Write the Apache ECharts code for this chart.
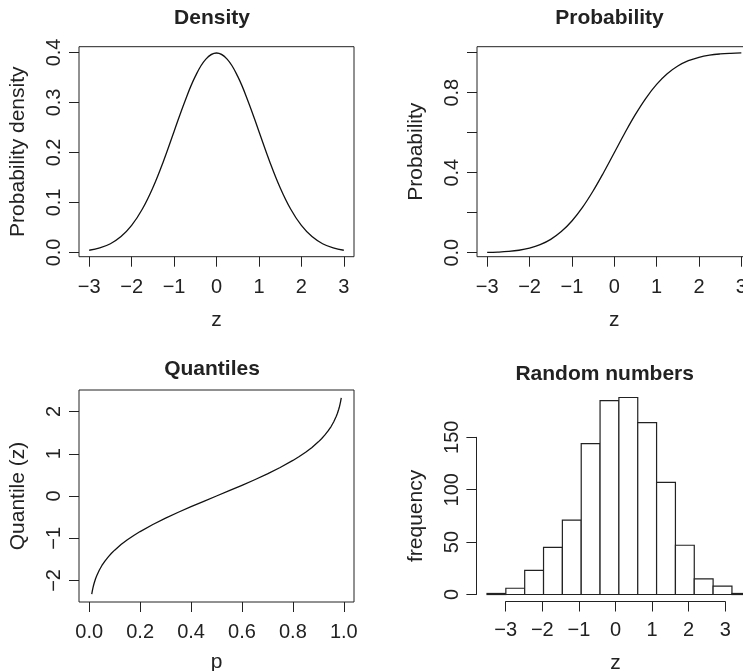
<!DOCTYPE html>
<html>
<head>
<meta charset="utf-8">
<script src="https://cdn.jsdelivr.net/npm/echarts@6/dist/echarts.min.js"></script>
<style>
  html, body { margin: 0; padding: 0; background: #fff; }
  #chart { width: 743px; height: 671px; }
</style>
</head>
<body>
<div id="chart"></div>
<script>
// ---------------- data ----------------
const densityZ = [-3, -2.75, -2.5, -2.25, -2, -1.75, -1.5, -1.25, -1, -0.75, -0.5, -0.25, 0,
                  0.25, 0.5, 0.75, 1, 1.25, 1.5, 1.75, 2, 2.25, 2.5, 2.75, 3];
const densityY = [0.0044, 0.0091, 0.0175, 0.0317, 0.0540, 0.0863, 0.1295, 0.1826, 0.2420, 0.3011, 0.3521, 0.3867, 0.3989,
                  0.3867, 0.3521, 0.3011, 0.2420, 0.1826, 0.1295, 0.0863, 0.0540, 0.0317, 0.0175, 0.0091, 0.0044];

const probZ = [-3, -2.75, -2.5, -2.25, -2, -1.75, -1.5, -1.25, -1, -0.75, -0.5, -0.25, 0,
               0.25, 0.5, 0.75, 1, 1.25, 1.5, 1.75, 2, 2.25, 2.5, 2.75, 3];
const probY = [0.0013, 0.0030, 0.0062, 0.0122, 0.0228, 0.0401, 0.0668, 0.1056, 0.1587, 0.2266, 0.3085, 0.4013, 0.5,
               0.5987, 0.6915, 0.7734, 0.8413, 0.8944, 0.9332, 0.9599, 0.9772, 0.9878, 0.9938, 0.9970, 0.9987];

const quantP = [0.01, 0.0125, 0.015, 0.0175, 0.02, 0.025, 0.03, 0.04, 0.05, 0.0625, 0.075, 0.0875, 0.1, 0.125, 0.15, 0.175, 0.2, 0.25, 0.3, 0.35, 0.4, 0.45, 0.5,
                0.55, 0.6, 0.65, 0.7, 0.75, 0.8, 0.825, 0.85, 0.875, 0.9, 0.9125, 0.925, 0.9375, 0.95, 0.96, 0.97, 0.975, 0.98, 0.9825, 0.985, 0.9875, 0.99];
const quantZ = [-2.326, -2.241, -2.170, -2.108, -2.054, -1.960, -1.881, -1.751, -1.645, -1.534, -1.440, -1.356, -1.282, -1.150, -1.036, -0.935, -0.842, -0.674, -0.524, -0.385, -0.253, -0.126, 0,
                0.126, 0.253, 0.385, 0.524, 0.674, 0.842, 0.935, 1.036, 1.150, 1.282, 1.356, 1.440, 1.534, 1.645, 1.751, 1.881, 1.960, 2.054, 2.108, 2.170, 2.241, 2.326];

const histEdges = [-3.51, -2.995, -2.48, -1.965, -1.45, -0.935, -0.42, 0.095, 0.61, 1.125, 1.64, 2.155, 2.67, 3.185, 3.70];
const histCounts = [1, 6, 23, 45, 71, 144, 185, 188, 164, 107, 47, 15, 8, 1];

// tick values / labels
const zTicks = [-3, -2, -1, 0, 1, 2, 3];
const densityYTicks = [0, 0.1, 0.2, 0.3, 0.4];
const probYTicks = [0, 0.2, 0.4, 0.6, 0.8, 1.0];
const probYLabels = [0, 0.4, 0.8];
const quantXTicks = [0, 0.2, 0.4, 0.6, 0.8, 1.0];
const quantYTicks = [-2, -1, 0, 1, 2];
const histYTicks = [0, 50, 100, 150];

const titles = ['Density', 'Probability', 'Quantiles', 'Random numbers'];

// ---------------- style ----------------
const FONT = '"Liberation Sans", Arial, Helvetica, sans-serif';
const INK = '#222';
const LINE = '#111';

function fmt(d) {
  return function (v) {
    const s = Math.abs(v).toFixed(d);
    return (v < -1e-9 ? '\u2212' : '') + s;
  };
}

function boxGrid(left, top, width, height) {
  return { left, top, width, height, show: true, borderColor: INK, borderWidth: 1,
           backgroundColor: 'transparent', containLabel: false, outerBoundsMode: 'none' };
}

function xAx(gridIndex, min, max, ticks, labels, dec, name, nameGap, margin) {
  return {
    type: 'value', gridIndex, min, max, position: 'bottom',
    axisLine: { show: false, onZero: false },
    splitLine: { show: false },
    axisTick: { show: true, inside: false, length: 10, customValues: ticks, lineStyle: { color: INK, width: 1 } },
    axisLabel: { show: true, customValues: labels, formatter: fmt(dec), margin, fontSize: 20, color: INK, fontFamily: FONT, hideOverlap: false, showMinLabel: true, showMaxLabel: true },
    name, nameLocation: 'middle', nameGap,
    nameTextStyle: { fontSize: 21, color: INK, fontFamily: FONT }
  };
}

function yAx(gridIndex, min, max, ticks, labels, dec, name, nameGap, margin) {
  return {
    type: 'value', gridIndex, min, max, position: 'left',
    axisLine: { show: false, onZero: false },
    splitLine: { show: false },
    axisTick: { show: true, inside: false, length: 10, customValues: ticks, lineStyle: { color: INK, width: 1 } },
    axisLabel: { show: true, customValues: labels, formatter: fmt(dec), rotate: 90, margin, fontSize: 20, color: INK, fontFamily: FONT, hideOverlap: false, showMinLabel: true, showMaxLabel: true },
    name, nameLocation: 'middle', nameGap, nameRotate: 90,
    nameTextStyle: { fontSize: 21, color: INK, fontFamily: FONT }
  };
}

const zip = (a, b) => a.map((v, i) => [v, b[i]]);
const histData = histCounts.map((c, i) => [histEdges[i], histEdges[i + 1], c]);

const option = {
  backgroundColor: '#fff',
  animation: false,
  textStyle: { fontFamily: FONT },
  grid: [
    boxGrid(79, 46.7, 275, 210),        // Density
    boxGrid(477, 46.7, 274.5, 210),     // Probability
    boxGrid(79, 390, 275, 212),         // Quantiles
    { left: 476.4, top: 389.6, width: 285, height: 212.8, show: false, containLabel: false, outerBoundsMode: 'none' }, // histogram bars
    { left: 476.4, top: 437.3, width: 10, height: 157.2, show: false, containLabel: false, outerBoundsMode: 'none' },  // hist y axis line
    { left: 505.7, top: 591.5, width: 219.5, height: 10, show: false, containLabel: false, outerBoundsMode: 'none' }   // hist x axis line
  ],
  xAxis: [
    xAx(0, -3.24, 3.24, zTicks, zTicks, 0, 'z', 53, 21),
    xAx(1, -3.24, 3.24, zTicks, zTicks, 0, 'z', 53, 21),
    xAx(2, -0.04, 1.04, quantXTicks, quantXTicks, 1, 'p', 50, 20),
    { type: 'value', gridIndex: 3, min: -3.8, max: 3.99, show: false },
    { type: 'value', gridIndex: 4, min: 0, max: 1, show: false },
    {
      type: 'value', gridIndex: 5, min: -3, max: 3, interval: 1, position: 'bottom',
      axisLine: { show: true, onZero: false, lineStyle: { color: INK, width: 1 } },
      splitLine: { show: false },
      axisTick: { show: true, inside: false, length: 10, customValues: zTicks, lineStyle: { color: INK, width: 1 } },
      axisLabel: { show: true, customValues: zTicks, formatter: fmt(0), margin: 19, fontSize: 20, color: INK, fontFamily: FONT },
      name: 'z', nameLocation: 'middle', nameGap: 51,
      nameTextStyle: { fontSize: 21, color: INK, fontFamily: FONT }
    }
  ],
  yAxis: [
    yAx(0, -0.0085, 0.4115, densityYTicks, densityYTicks, 1, 'Probability density', 50, 15),
    yAx(1, -0.02, 1.03, probYTicks, probYLabels, 1, 'Probability', 50, 15),
    yAx(2, -2.51, 2.51, quantYTicks, quantYTicks, 0, 'Quantile (z)', 50, 15),
    { type: 'value', gridIndex: 3, min: -7.52, max: 195.52, show: false },
    {
      type: 'value', gridIndex: 4, min: 0, max: 150, interval: 50, position: 'left',
      axisLine: { show: true, onZero: false, lineStyle: { color: INK, width: 1 } },
      splitLine: { show: false },
      axisTick: { show: true, inside: false, length: 10, customValues: histYTicks, lineStyle: { color: INK, width: 1 } },
      axisLabel: { show: true, customValues: histYTicks, formatter: fmt(0), rotate: 90, margin: 14, fontSize: 20, color: INK, fontFamily: FONT },
      name: 'frequency', nameLocation: 'middle', nameGap: 50, nameRotate: 90,
      nameTextStyle: { fontSize: 21, color: INK, fontFamily: FONT }
    },
    { type: 'value', gridIndex: 5, min: 0, max: 1, show: false }
  ],
  graphic: [
    { type: 'text', x: 212, y: 18.5, style: { text: titles[0], align: 'center', verticalAlign: 'middle', font: 'bold 21px ' + FONT, fill: INK } },
    { type: 'text', x: 609.5, y: 18.5, style: { text: titles[1], align: 'center', verticalAlign: 'middle', font: 'bold 21px ' + FONT, fill: INK } },
    { type: 'text', x: 212, y: 369.5, style: { text: titles[2], align: 'center', verticalAlign: 'middle', font: 'bold 21px ' + FONT, fill: INK } },
    { type: 'text', x: 604.7, y: 374.5, style: { text: titles[3], align: 'center', verticalAlign: 'middle', font: 'bold 21px ' + FONT, fill: INK } }
  ],
  series: [
    { type: 'line', xAxisIndex: 0, yAxisIndex: 0, data: zip(densityZ, densityY), smooth: 0.4, showSymbol: false,
      lineStyle: { color: LINE, width: 1.3 }, silent: true },
    { type: 'line', xAxisIndex: 1, yAxisIndex: 1, data: zip(probZ, probY), smooth: 0.4, showSymbol: false,
      lineStyle: { color: LINE, width: 1.3 }, silent: true },
    { type: 'line', xAxisIndex: 2, yAxisIndex: 2, data: zip(quantP, quantZ), smooth: false, showSymbol: false,
      lineStyle: { color: LINE, width: 1.3, join: 'round' }, silent: true },
    {
      type: 'custom', xAxisIndex: 3, yAxisIndex: 3, data: histData, clip: false,
      encode: { x: [0, 1], y: 2 },
      renderItem: function (params, api) {
        const p0 = api.coord([api.value(0), api.value(2)]);
        const p1 = api.coord([api.value(1), 0]);
        return {
          type: 'rect',
          shape: { x: p0[0], y: p0[1], width: p1[0] - p0[0], height: p1[1] - p0[1] },
          style: { fill: '#fff', stroke: INK, lineWidth: 1.2 }
        };
      },
      silent: true
    }
  ]
};

const chart = echarts.init(document.getElementById('chart'), null, { renderer: 'canvas' });
chart.setOption(option);
</script>
</body>
</html>
